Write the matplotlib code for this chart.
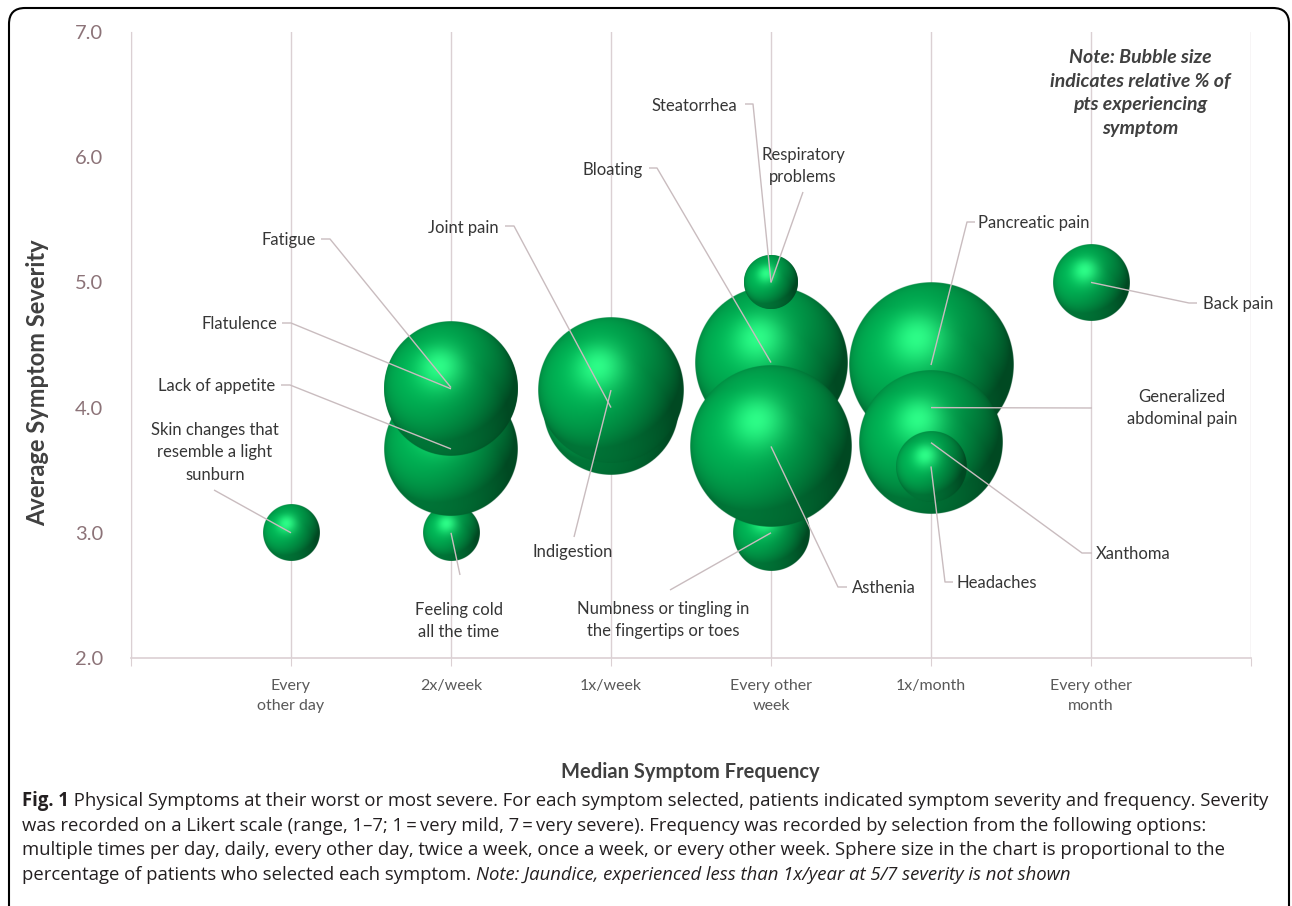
import numpy as np
import matplotlib
matplotlib.use("Agg")
import matplotlib.pyplot as plt
from matplotlib.patches import FancyBboxPatch
from matplotlib.transforms import IdentityTransform

# ---------------- data ----------------
categories = ["Every\nother day", "2x/week", "1x/week", "Every other\nweek", "1x/month", "Every other\nmonth"]

symptoms = ["Skin changes that\nresemble a light\nsunburn", "Feeling cold\nall the time", "Lack of appetite",
            "Flatulence", "Fatigue", "Joint pain", "Indigestion",
            "Numbness or tingling in\nthe fingertips or toes", "Bloating", "Asthenia", "Steatorrhea",
            "Respiratory\nproblems", "Generalized\nabdominal pain", "Pancreatic pain", "Xanthoma",
            "Headaches", "Back pain"]
frequency_idx = [1, 2, 2, 2, 2, 3, 3, 4, 4, 4, 4, 4, 5, 5, 5, 5, 6]
severity = [3.0, 3.0, 3.67, 4.15, 4.16, 4.0, 4.14, 3.0, 4.36, 3.69, 5.0, 5.0, 4.0, 4.34, 3.72, 3.53, 5.0]
pct_patients = [7, 7, 40, 40, 40, 41, 47, 13, 52, 58, 6.5, 6.5, 32, 60, 46, 11, 13]

yticks = [2.0, 3.0, 4.0, 5.0, 6.0, 7.0]

# ---------------- layout (pixel positions of labels) ----------------
W, H = 1292, 906
# text x, text y, ha, leader start, elbow (None = straight)
label_layout = {
    "Skin changes that\nresemble a light\nsunburn": (215, 452, "center", (214, 490), None),
    "Feeling cold\nall the time": (459, 621, "center", (460, 575), None),
    "Lack of appetite": (275, 386, "right", (281, 385), (290, 385)),
    "Flatulence": (277, 324, "right", (282, 323), (291, 323)),
    "Fatigue": (316, 240, "right", (321, 239), (330, 239)),
    "Joint pain": (499, 228, "right", (505, 226), (514, 226)),
    "Indigestion": (573, 552, "center", (574, 537), None),
    "Numbness or tingling in\nthe fingertips or toes": (663, 620, "center", (670, 590), None),
    "Bloating": (643, 170, "right", (649, 168), (657, 168)),
    "Asthenia": (852, 588, "left", (847, 587), (838, 587)),
    "Steatorrhea": (737, 106, "right", (745, 104), (753, 104)),
    "Respiratory\nproblems": (803, 166, "center", (803, 192), None),
    "Generalized\nabdominal pain": (1182, 408, "center", (1092, 408), None),
    "Pancreatic pain": (978, 223, "left", (975, 222), (967, 222)),
    "Xanthoma": (1096, 554, "left", (1092, 553), (1082, 553)),
    "Headaches": (957, 583, "left", (953, 582), (945, 582)),
    "Back pain": (1203, 304, "left", (1197, 303), (1189, 303)),
}

plt.rcParams["font.family"] = ["Lato", "DejaVu Sans"]
GRID = "#dbd0d3"
LEADER = "#c9bcbf"
TXT = "#363636"

fig = plt.figure(figsize=(W / 100, H / 100), dpi=100)
ax = fig.add_axes([131 / W, (H - 658) / H, 1120 / W, 626 / H])
ax.set_xlim(0, 7)
ax.set_ylim(2, 7)
ax.set_autoscale_on(False)

# axes styling
for s in ["top", "right"]:
    ax.spines[s].set_visible(False)
ax.spines["left"].set_color(GRID)
ax.spines["bottom"].set_color(GRID)
ax.spines["bottom"].set_linewidth(1.2)
ax.set_xticks(range(0, 8))
ax.set_xticklabels([""] + categories + [""], color="#595959", fontsize=11.5, linespacing=1.6)
ax.tick_params(axis="x", length=6, color=GRID, pad=9)
ax.set_yticks(yticks)
ax.set_yticklabels([f"{v:.1f}" for v in yticks], color="#8c7378", fontsize=14.5)
ax.tick_params(axis="y", length=0, pad=20)
for xv in range(0, 8):
    ax.axvline(xv, color=GRID, lw=1.0, zorder=0)

# ---------------- sphere shading ----------------
def sphere_rgba(n=300):
    t = np.linspace(-1, 1, n)
    X, Y = np.meshgrid(t, -t)
    d2 = X ** 2 + Y ** 2
    Z = np.sqrt(np.clip(1 - d2, 0, 1))
    L = np.array([-0.30, 0.60, 0.74]); L /= np.linalg.norm(L)
    L2 = np.array([-0.5, -0.7, 0.5]); L2 /= np.linalg.norm(L2)
    Hv = L + np.array([0, 0, 1.0]); Hv /= np.linalg.norm(Hv)
    diff = np.clip(X * L[0] + Y * L[1] + Z * L[2], 0, 1)
    fill = np.clip(X * L2[0] + Y * L2[1] + Z * L2[2], 0, 1)
    spec = np.clip(X * Hv[0] + Y * Hv[1] + Z * Hv[2], 0, 1) ** 16
    base = np.array([0, 174, 82]) / 255.0
    col = (base[None, None, :] * (0.42 + 0.56 * diff[..., None] + 0.25 * fill[..., None])
           + spec[..., None] * np.array([0.22, 0.36, 0.25])[None, None, :] * 0.8)
    col = np.clip(col, 0, 1)
    r = np.sqrt(d2)
    alpha = np.clip((1 - r) * n / 2.0 + 0.5, 0, 1)
    return np.dstack([col, alpha])

SPH = sphere_rgba()
R_PER_SQRT_PCT = 10.59  # bubble radius in pixels per sqrt(% of patients)

bbox = ax.get_window_extent()
px_per_x = bbox.width / 7.0
px_per_y = bbox.height / 5.0

for i, (fx, sv, pc) in enumerate(zip(frequency_idx, severity, pct_patients)):
    r = R_PER_SQRT_PCT * np.sqrt(pc)
    hw, hh = r / px_per_x, r / px_per_y
    ax.imshow(SPH, extent=[fx - hw, fx + hw, sv - hh, sv + hh], aspect="auto",
              interpolation="antialiased", zorder=2 + i * 0.01)

ax.set_xlim(0, 7)
ax.set_ylim(2, 7)

# ---------------- labels & leaders ----------------
inv = ax.transData.inverted()
def px2data(px, py):
    return inv.transform((px, H - py))

for name, fx, sv in zip(symptoms, frequency_idx, severity):
    tx, ty, ha, start, elbow = label_layout[name]
    pts = [start] + ([elbow] if elbow else [])
    dpts = [px2data(*p) for p in pts] + [(fx, sv)]
    xs, ys = zip(*dpts)
    ax.plot(xs, ys, color=LEADER, lw=1.0, zorder=5, solid_capstyle="butt")
    fig.text(tx / W, 1 - ty / H, name, ha=ha, va="center", fontsize=12, color=TXT,
             linespacing=1.5, multialignment="center", zorder=6)

# axis titles
fig.text(38 / W, 1 - 383 / H, "Average Symptom Severity", rotation=90, ha="center", va="center",
         fontsize=17, fontweight="bold", color="#404040")
fig.text(690 / W, 1 - 772 / H, "Median Symptom Frequency", ha="center", va="center",
         fontsize=14.5, fontweight="bold", color="#404040")

# note
fig.text(1140 / W, 1 - 93 / H, "Note: Bubble size\nindicates relative % of\npts experiencing\nsymptom",
         ha="center", va="center", fontsize=14, fontweight="bold", fontstyle="italic",
         color="#404040", linespacing=1.48)

# ---------------- caption ----------------
renderer = fig.canvas.get_renderer()
cap_lines = [
    [("Fig. 1", "bold", "normal"), (" Physical Symptoms at their worst or most severe. For each symptom selected, patients indicated symptom severity and frequency. Severity", "normal", "normal")],
    [("was recorded on a Likert scale (range, 1\u20137; 1\u2009=\u2009very mild, 7\u2009=\u2009very severe). Frequency was recorded by selection from the following options:", "normal", "normal")],
    [("multiple times per day, daily, every other day, twice a week, once a week, or every other week. Sphere size in the chart is proportional to the", "normal", "normal")],
    [("percentage of patients who selected each symptom. ", "normal", "normal"), ("Note: Jaundice, experienced less than 1x/year at 5/7 severity is not shown", "normal", "italic")],
]
cap_y = [801, 826, 850, 875]
CAP_FONT = ["Open Sans", "DejaVu Sans"]

def line_width(parts, fs):
    w = 0
    for txt, wt, st in parts:
        t = fig.text(0, 0, txt, fontsize=fs, fontweight=wt, fontstyle=st, family=CAP_FONT)
        w += t.get_window_extent(renderer).width
        t.remove()
    return w

fs0 = 10.5
w0 = line_width(cap_lines[0], fs0)
cap_fs = fs0 * 1253.0 / w0

for parts, yy in zip(cap_lines, cap_y):
    x = 22
    for txt, wt, st in parts:
        t = fig.text(x / W, 1 - yy / H, txt, fontsize=cap_fs, fontweight=wt, fontstyle=st,
                     family=CAP_FONT, color="#231f20", ha="left", va="center")
        x += t.get_window_extent(renderer).width

# border
border = FancyBboxPatch((9, -30), 1280, 928, boxstyle="round,pad=0,rounding_size=16",
                        transform=IdentityTransform(), fill=False, lw=1.5, ec="black")
fig.add_artist(border)

fig.savefig("out.png", dpi=100)
